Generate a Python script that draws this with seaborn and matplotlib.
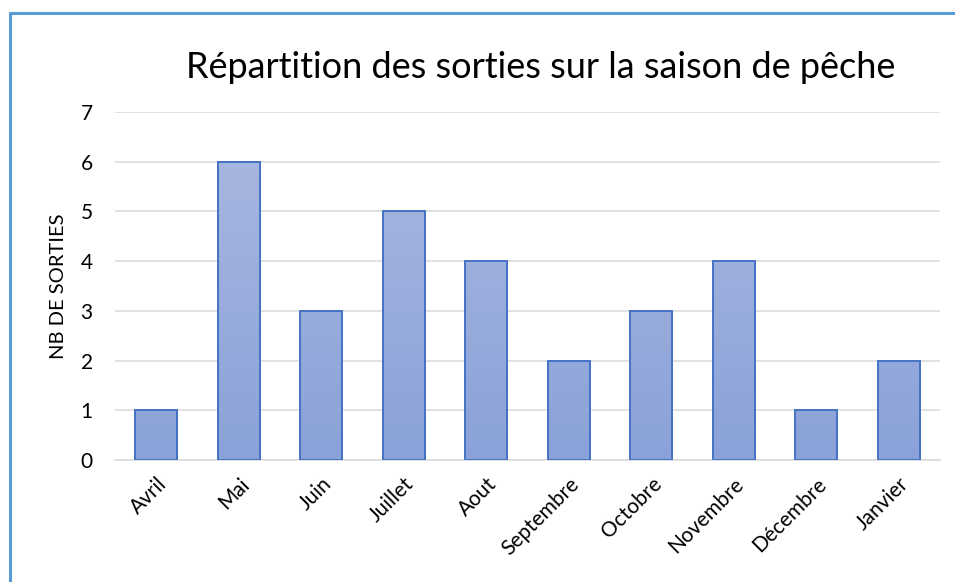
import matplotlib
matplotlib.use("Agg")
import matplotlib.pyplot as plt
import numpy as np
import pandas as pd
import seaborn as sns
from matplotlib.colors import LinearSegmentedColormap
from matplotlib.lines import Line2D

MOIS = ['Avril', 'Mai', 'Juin', 'Juillet', 'Aout', 'Septembre',
        'Octobre', 'Novembre', 'Décembre', 'Janvier']
SORTIES = [1, 6, 3, 5, 4, 2, 3, 4, 1, 2]
TITRE = 'Répartition des sorties sur la saison de pêche'
Y_LABEL = 'NB DE SORTIES'
Y_TICKS = list(range(0, 8))

GRID = '#d9d9d9'
EDGE = '#4472c4'
gradient = LinearSegmentedColormap.from_list('bar', ['#8aa2d8', '#abb9e1'])

sns.set_theme(style='white')
plt.rcParams['font.family'] = ['Lato', 'DejaVu Sans']

df = pd.DataFrame({'mois': MOIS, 'sorties': SORTIES})

fig = plt.figure(figsize=(9.55, 5.82), dpi=100)
ax = fig.add_axes([115 / 955, 1 - 460 / 582, 825 / 955, 348 / 582])

sns.barplot(data=df, x='mois', y='sorties', ax=ax, width=0.51,
            facecolor='none', edgecolor=EDGE, linewidth=1.4, zorder=3)

# gradient fill inside each bar
grad = np.linspace(0, 1, 256).reshape(-1, 1)
for p in ax.patches:
    x0, y0 = p.get_x(), p.get_y()
    w, h = p.get_width(), p.get_height()
    im = ax.imshow(grad, cmap=gradient, origin='lower', aspect='auto',
                   extent=(x0, x0 + w, 0, 7), zorder=2)
    im.set_clip_path(p)

ax.set_xlim(-0.5, len(MOIS) - 0.5)
ax.set_ylim(0, 7)
ax.set_yticks(Y_TICKS)
ax.yaxis.grid(True, color=GRID, linewidth=1.1, zorder=0)
ax.set_axisbelow(True)
for s in ['top', 'right', 'left']:
    ax.spines[s].set_visible(False)
ax.spines['bottom'].set_color(GRID)
ax.spines['bottom'].set_linewidth(1.1)
ax.tick_params(axis='y', length=0, pad=16, labelsize=15, labelcolor='black')
ax.tick_params(axis='x', length=0, pad=10, labelsize=15, labelcolor='black')
ax.set_xticks(range(len(MOIS)))
ax.set_xticklabels(MOIS, rotation=45, ha='right', rotation_mode='anchor')
ax.set_xlabel('')
ax.set_ylabel(Y_LABEL, fontsize=14.5, color='black', labelpad=10)

fig.text(541 / 955, 1 - 68 / 582, TITRE, ha='center', va='center',
         fontsize=26, color='black')

# chart frame, only top and left edges visible in the crop
fig.add_artist(Line2D([10 / 955, 10 / 955], [0, 1 - 13 / 582],
                      transform=fig.transFigure, color='#5b9bd5', linewidth=2.2))
fig.add_artist(Line2D([10 / 955, 1], [1 - 13 / 582, 1 - 13 / 582],
                      transform=fig.transFigure, color='#5b9bd5', linewidth=2.2))

fig.savefig('out.png', dpi=100)
